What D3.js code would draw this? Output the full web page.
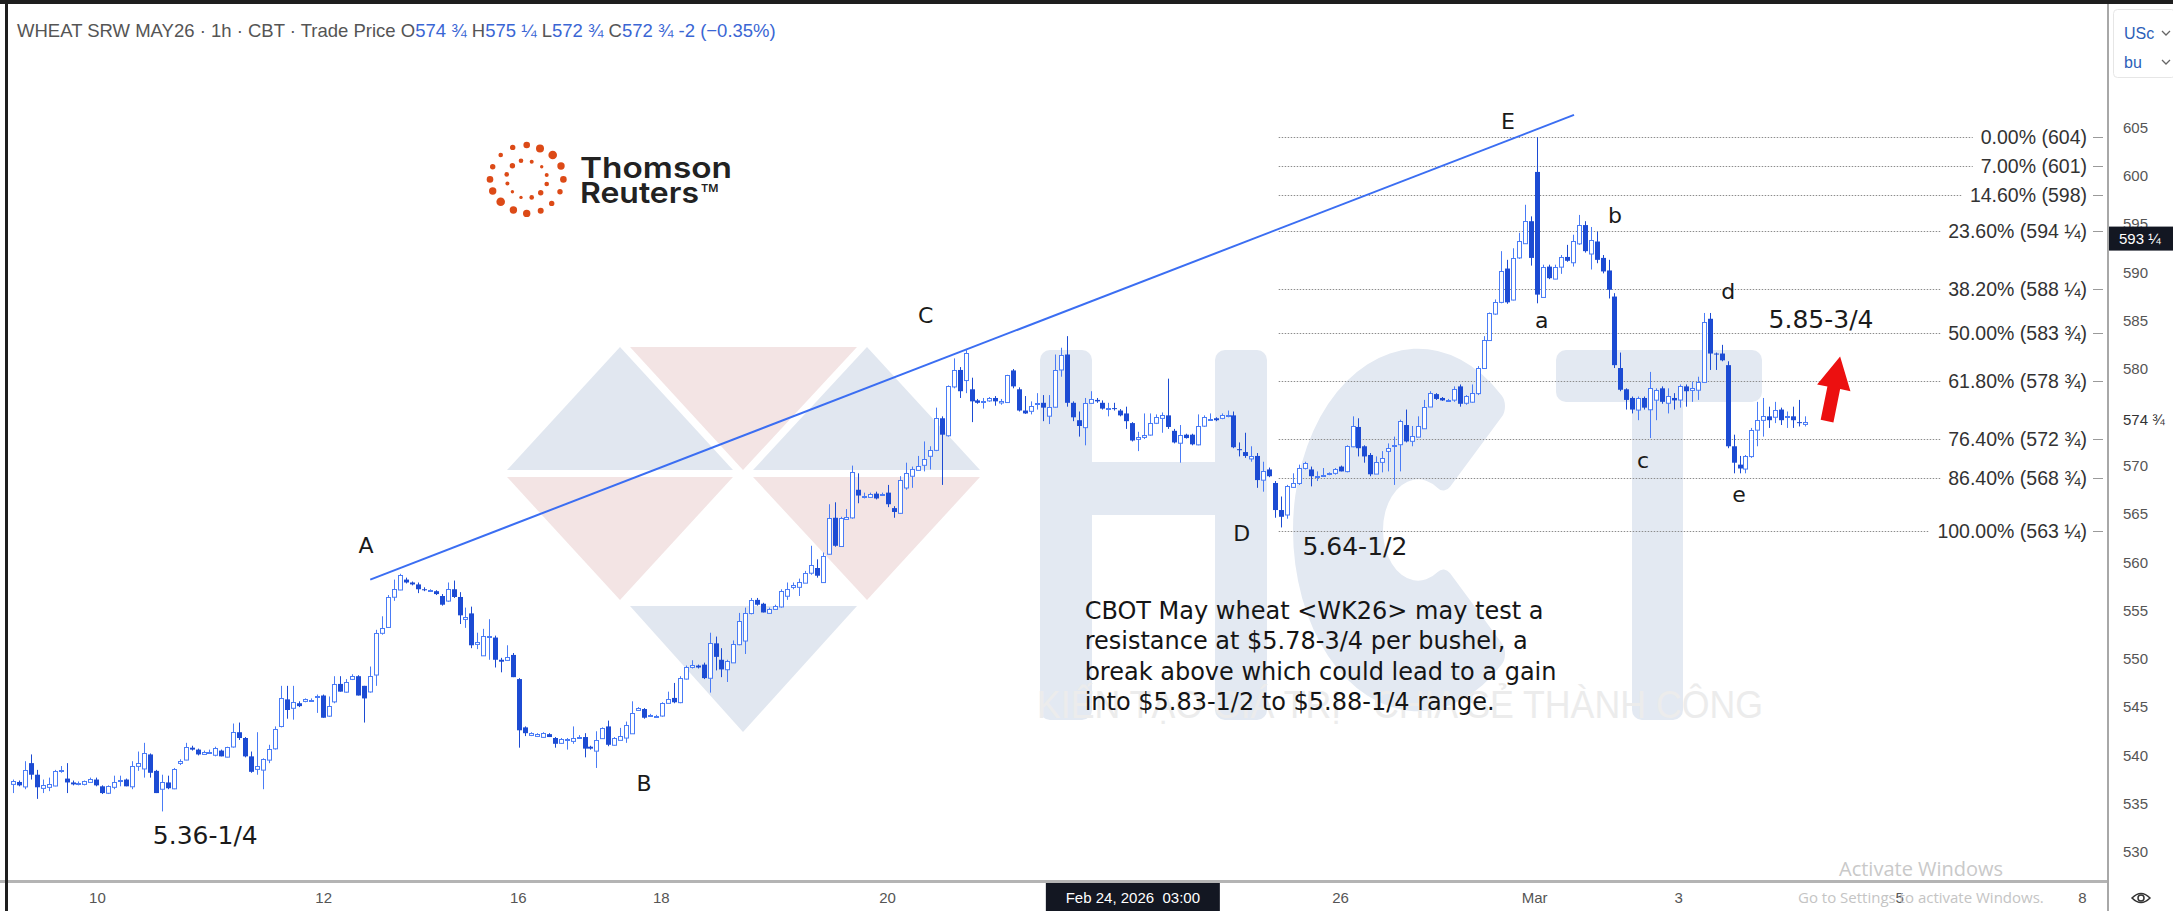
<!DOCTYPE html>
<html><head><meta charset="utf-8">
<script src="https://cdn.jsdelivr.net/npm/d3@7"></script>
<style>
html,body{margin:0;padding:0;background:#fff;overflow:hidden}
svg{display:block}
</style></head><body>
<svg id="chart" width="2173" height="911"></svg>
<script>
// ---------------- DATA ----------------
// hourly candles [open, high, low, close], US cents per bushel
const candlesA = [
[537.0,537.5,536.1,537.3],[537.25,537.4,536.8,536.9],[536.8,539.4,536.5,538.5],[539.2,540.1,537.5,538.0],
[538.0,538.5,535.5,536.7],[536.6,537.5,536.1,536.9],[536.7,537.7,536.3,537.0],[536.9,538.5,536.8,538.4],
[538.4,538.9,538.2,538.5],[537.6,539.2,536.1,537.2],[537.2,537.4,536.9,537.0],[537.0,537.3,536.9,537.1],
[537.0,537.4,536.9,537.3],[537.3,537.7,537.2,537.6],[537.5,537.7,536.8,536.9],[536.8,536.9,536.0,536.1],
[536.1,536.9,536.0,536.8],[536.7,537.9,536.5,537.2],[537.4,537.9,536.8,537.5],[537.5,537.6,536.8,536.8],
[536.8,539.4,536.5,538.9],[538.9,540.4,538.4,539.2],[538.6,541.3,537.7,540.2],[540.1,540.2,537.7,538.2],
[538.4,538.5,536.1,536.1],[536.5,538.0,534.2,537.2],[537.2,537.9,536.5,536.6],[536.6,538.7,536.5,538.6],
[539.2,539.6,539.0,539.4],[539.6,541.3,539.5,540.9],[540.8,541.0,540.5,540.6],[540.6,540.7,540.0,540.1],
[540.2,540.5,540.1,540.4],[540.4,540.6,540.3,540.4],[540.1,540.9,539.9,540.8],[540.5,540.6,539.9,539.9],
[539.9,540.9,539.8,540.9],[540.9,543.3,540.8,542.4],[542.4,543.4,541.6,541.8],[541.8,541.9,539.8,539.9],
[539.9,540.4,538.2,538.3],[538.6,542.4,538.0,538.9],[538.5,539.7,536.5,539.6],[539.6,541.1,539.2,540.7],
[540.7,543.0,540.6,542.7],[543.0,547.2,542.9,545.9],[545.8,547.2,543.8,544.7],[544.9,547.2,543.7,545.5],
[545.4,545.6,545.0,545.1],[545.6,545.9,545.5,545.8],[545.7,545.9,545.6,545.7],[546.0,546.3,544.4,546.1]
];
const candlesB = [
[546.2,546.3,543.9,543.9],[544.1,546.1,544.0,545.1],[545.6,548.2,545.4,547.4],[547.4,548.2,546.6,546.6],
[546.6,547.9,546.5,547.6],[547.9,548.4,547.8,548.2],[548.2,548.3,546.2,546.2],[547.2,547.2,543.4,545.9],
[546.6,549.2,546.5,548.2],[548.4,553.0,547.2,552.7],[552.7,554.4,552.5,553.2],[553.3,556.6,553.2,556.4],
[556.4,558.2,556.0,557.2],[557.2,558.8,557.1,558.7],[558.2,558.4,557.8,557.9],[557.9,558.0,557.6,557.7],
[557.7,557.9,556.8,557.2],[557.2,557.4,557.0,557.1],[557.1,557.2,557.0,557.1],[557.0,557.1,556.6,556.7],
[556.5,556.7,555.5,555.6],[556.0,557.9,555.9,557.2],[557.2,558.1,556.3,556.4],[556.4,556.9,553.6,554.5],
[554.1,555.3,553.2,554.3],[554.7,555.4,551.1,551.4],[551.5,552.7,551.0,551.7],[550.4,553.1,550.3,552.4],
[552.3,554.1,549.9,552.4],[552.2,552.4,549.1,549.9],[549.9,550.1,548.6,549.7],[549.9,551.4,549.8,550.2],
[550.4,550.6,548.1,548.1],[547.9,548.0,540.8,542.6],[542.9,543.0,542.0,542.3],[542.1,542.4,542.0,542.3],
[542.0,542.3,541.9,542.2],[541.9,542.4,541.8,542.3],[542.2,542.3,541.9,541.9],[541.8,541.9,540.8,541.2],
[541.3,541.8,541.2,541.7],[541.6,541.8,540.6,541.7],[541.5,543.0,541.2,541.8],[541.9,542.1,541.8,541.9],
[541.9,542.3,539.8,540.7],[540.9,541.0,540.6,540.7],[540.5,542.5,538.7,541.6]
];
const candlesC = [
[541.8,542.9,541.7,542.85],[543.0,543.6,540.95,541.1],[541.1,541.9,541.0,541.8],[541.6,542.85,541.6,542.0],
[541.8,543.5,541.3,543.1],[542.3,545.6,542.3,544.4],[544.7,545.0,544.6,544.9],[544.8,544.9,543.8,543.9],
[544.1,544.3,544.0,544.2],[544.0,544.2,543.9,544.1],[544.1,545.5,544.0,545.4],[545.45,546.6,545.4,545.85],
[545.95,547.5,545.4,545.5],[545.5,548.2,545.4,548.0],[547.9,549.3,547.85,549.1],[549.2,549.85,549.0,549.4],
[549.3,549.4,549.0,549.1],[549.4,549.6,547.9,548.0],[548.0,552.7,546.5,551.6],[551.6,552.3,548.8,550.2],
[549.9,551.1,548.1,548.9],[548.9,549.9,547.6,549.75],[549.6,551.9,549.6,551.5],[551.5,554.75,551.4,553.9],
[551.9,555.3,550.5,554.75],[554.75,556.3,554.6,556.1],[556.1,556.3,555.5,555.6],[555.7,555.8,554.8,554.8],
[554.8,555.3,554.7,555.2],[555.2,555.6,555.1,555.5],[555.4,557.2,555.3,557.0],[556.5,557.9,556.1,557.2],
[557.4,557.9,557.2,557.6],[557.4,558.3,556.5,557.9],[557.9,559.1,557.85,558.9],[558.9,561.7,558.7,559.7],
[559.4,560.3,558.4,558.6],[557.9,561.0,557.85,560.6],[560.9,566.0,560.8,564.6],[564.6,566.2,561.6,561.7],
[561.7,564.7,561.6,564.6],[564.5,565.5,564.4,564.7],[564.6,570.0,564.5,569.3],[567.5,569.2,566.1,566.9],
[566.8,567.2,566.6,566.9],[566.8,567.2,566.7,567.1],[567.1,567.3,566.5,566.6],[567.0,567.2,566.9,567.1],
[567.2,568.0,565.7,566.0],[565.6,565.8,564.6,565.2]
];
const candlesD = [
[565.1,568.9,565.0,568.5],[567.7,570.3,567.5,569.2],[568.9,569.9,567.7,569.6],[569.6,571.0,569.5,570.0],
[570.1,572.5,569.4,570.7],[571.0,572.0,569.6,571.6],[571.6,576.0,571.5,574.9],[574.9,575.1,568.0,573.2],
[573.1,578.3,573.0,578.2],[578.2,581.1,578.0,579.9],[579.9,580.2,577.0,577.7],[578.9,582.0,577.5,581.7],
[577.9,579.1,574.5,576.65],[576.75,576.9,576.4,576.5],[576.6,577.0,575.9,576.7],[576.75,577.1,576.6,577.0],
[577.0,577.2,576.2,576.65],[576.5,576.9,576.3,576.65],[576.6,579.4,576.5,579.4],[579.85,580.0,578.0,578.2],
[577.9,578.1,575.6,575.7],[575.7,577.2,575.35,575.4],[575.7,576.65,575.3,576.2],[576.4,577.5,575.8,576.5],
[576.5,577.3,574.6,576.0],[575.2,577.3,574.3,576.1],[576.1,581.5,576.0,579.9],[579.9,582.2,579.2,581.4],
[581.5,583.4,576.1,576.5],[576.5,576.65,574.6,575.0],[574.7,575.6,573.0,574.1],[574.0,577.0,572.1,576.5],
[576.5,577.7,576.4,576.9],[576.8,577.0,576.5,576.65],[576.5,576.75,575.8,575.9],[575.9,576.5,575.1,575.95],
[575.95,576.5,575.7,575.85],[575.7,575.85,575.1,575.2],[575.4,576.1,573.8,574.6],[574.4,574.5,572.5,572.6],
[572.75,573.5,571.5,572.95],[573.0,575.4,572.75,573.2],[573.2,575.4,573.1,574.4],[574.4,575.3,574.3,575.0],
[574.9,575.5,573.4,575.2],[575.2,579.0,573.8,574.0],[573.6,573.8,572.3,572.4],[572.4,574.2,570.3,573.2],
[573.2,573.3,572.8,572.85],[573.2,573.3,572.1,572.2],[572.2,575.3,572.1,574.1],[574.1,575.2,574.0,575.0],
[574.8,575.4,574.7,574.85],[574.9,575.0,574.6,574.7],[574.9,575.4,574.8,575.2],[575.1,575.7,575.0,575.2],
[575.2,575.6,571.8,571.9],[571.7,572.4,570.95,571.6],[571.4,573.4,570.8,571.0],[570.7,572.0,570.4,570.95],
[571.0,571.3,567.7,568.5]
];
const candlesE = [
[568.5,570.4,567.3,569.4],[569.6,569.8,568.8,568.9],[568.2,568.4,564.6,565.4],[565.4,566.8,563.6,564.7],
[564.9,568.0,564.5,567.85],[567.8,569.2,567.7,568.2],[568.2,570.1,568.0,569.75],[569.75,570.4,569.6,570.26],
[569.6,569.9,567.85,568.9],[568.9,569.4,568.4,568.95],[568.9,569.75,568.85,569.0],[569.1,569.3,569.0,569.2],
[569.2,569.75,569.06,569.6],[569.9,570.0,569.4,569.4],[569.4,572.1,569.3,572.0],[572.0,575.1,571.9,574.1],
[574.0,574.9,570.95,571.8],[572.0,572.1,570.3,570.95],[571.1,571.3,568.9,569.1],[569.2,570.95,569.16,570.4],
[570.4,571.5,569.3,570.8],[571.5,572.3,569.4,571.8],[572.0,573.0,568.0,572.1],[572.2,574.75,569.4,574.6],
[574.2,575.8,572.4,572.5],[572.6,574.1,572.0,573.1],[573.0,575.1,572.95,574.1],[573.9,576.8,573.8,576.1],
[576.1,577.7,576.06,577.5],[577.4,577.5,576.8,576.9],[577.0,577.1,576.7,576.75],[576.75,576.9,576.6,576.8],
[576.8,578.2,576.6,577.9],[578.2,578.4,576.1,576.4],[576.5,577.3,576.3,577.2],[576.6,578.4,576.5,577.5],
[577.5,580.3,577.3,580.1],[580.1,583.4,580.0,583.0],[583.0,585.85,582.95,585.8],[585.7,587.2,585.6,586.9],
[586.9,592.2,586.8,590.1],[590.4,591.3,586.75,586.9],[587.2,592.5,587.1,591.5],[591.5,594.1,591.4,593.2],
[593.0,597.0,592.95,595.3],[595.3,595.8,590.7,591.5],[600.4,604.0,586.8,587.7],[587.5,590.8,587.4,590.6],
[590.6,590.8,589.3,589.4],[589.4,590.8,589.3,590.6],[590.6,591.8,589.85,591.6],[591.6,592.85,591.1,591.2],
[591.0,593.9,590.6,593.2],[593.0,595.95,592.85,594.9]
];
const candlesF = [
[594.9,595.3,592.05,592.2],[592.0,594.7,590.3,593.4],[593.2,594.2,590.95,591.3],[591.5,591.8,589.9,590.1],
[590.2,591.3,587.3,588.2],[587.5,587.85,580.1,580.4],[580.1,581.7,577.7,577.85],[577.9,578.0,575.8,576.8],
[577.0,577.15,575.4,575.8],[575.8,577.15,574.7,577.0],[577.0,577.15,575.8,576.0],[575.8,579.7,572.85,578.0],
[576.8,578.0,574.7,577.8],[578.0,578.2,576.4,576.6],[576.5,578.0,575.4,577.2],[577.0,577.5,575.8,576.75],
[576.8,578.4,576.0,578.2],[578.2,578.4,576.1,577.7],[577.8,578.7,576.6,578.0],[577.9,579.2,576.8,578.7],
[578.7,585.8,578.6,584.9],[585.2,585.8,579.9,581.6],[581.6,581.7,579.9,581.5],[581.6,582.5,580.8,580.9],
[580.4,580.8,571.8,572.0],[572.0,573.2,569.2,570.3],[570.1,571.0,569.2,569.7],[569.7,571.1,569.2,571.0],
[571.0,573.9,570.8,573.7],[573.7,576.6,572.0,574.7],[574.7,577.0,573.0,575.1],[575.1,576.1,573.9,574.7],
[575.1,576.6,574.4,575.8],[575.8,576.0,574.2,574.7],[575.0,575.6,573.9,575.1],[575.1,576.1,573.9,574.7],
[574.5,576.8,574.05,574.4],[574.3,575.1,574.05,574.5]
];
const priceTicks = [530,535,540,545,550,555,560,565,570,580,585,590,595,600,605];
const dateTickLabels = ["10","12","16","18","20","26","Mar","3","5","8"];
const dateTickBars   = [14.1,52.1,84.8,108.8,146.8,222.9,255.5,279.7,316.8,347.5];
const fibPrices = [604,601,598,594.25,588.25,583.75,578.75,572.75,568.75,563.25];
const fibLabels = ["0.00% (604)","7.00% (601)","14.60% (598)","23.60% (594 ¼)","38.20% (588 ¼)",
                   "50.00% (583 ¾)","61.80% (578 ¾)","76.40% (572 ¾)","86.40% (568 ¾)","100.00% (563 ¼)"];
const fibStartBar = 212.6;
const trendBars = [60.0, 262.2];
const trendPrices = [558.2, 606.3];
const waveNames = ["A","B","C","D","E","a","b","c","d","e"];
const waveBars  = [59.3,106.0,153.3,206.4,251.1,256.8,269.1,273.8,288.1,289.9];
const wavePrices= [561.8,537.1,585.6,563.0,605.6,585.0,595.9,570.6,588.0,567.0];
const levelTexts = ["5.36-1/4","5.64-1/2","5.85-3/4"];
const levelBars  = [32.3,225.4,303.7];
const levelPrices= [531.7,561.7,585.1];
const noteLines = ["CBOT May wheat <WK26> may test a","resistance at $5.78-3/4 per bushel, a",
                   "break above which could lead to a gain","into $5.83-1/2 to $5.88-1/4 range."];
const noteBar = 180.0, notePrice = 555.0;
const arrowBars = [304.7, 306.9], arrowPrices = [574.6, 581.3];
const lastPrice = 574.75, lastPriceLabel = "574 ¾";
const crossPrice = 593.5, crossPriceLabel = "593 ¼";
const crossBar = 188.1, crossTimeLabel = "Feb 24, 2026  03:00";
const headerTitle = "WHEAT SRW MAY26 · 1h · CBT · Trade Price";
const headerOHLC = [["O","574 ¾"],["H","575 ¼"],["L","572 ¾"],["C","572 ¾"]];
const headerChange = "-2 (−0.35%)";

// ---------------- CHART ----------------
const candles = [].concat(candlesA,candlesB,candlesC,candlesD,candlesE,candlesF)
  .map(([o,h,l,c])=>({o,h:Math.max(h,o,c),l:Math.min(l,o,c),c}));
const W=2173,H=911, axisX=2107, axisY=881;
const svg=d3.select("#chart");
const x=d3.scaleLinear().domain([0,candles.length-1]).range([13,1805]);
const y=d3.scaleLinear().domain([530,605]).range([852,127.5]);

svg.append("rect").attr("width",W).attr("height",H).attr("fill","#fff");

// watermark: triangles
const wm=svg.append("g");
const BL="#e1e7f0", RD="#f3e4e4";
const tri=[
 [[620,347],[507,470],[733,470],BL],
 [[630,347],[857,347],[743,470],RD],
 [[867,347],[753,470],[980,470],BL],
 [[507,477],[733,477],[620,600],RD],
 [[753,477],[980,477],[867,600],RD],
 [[630,606],[857,606],[743,732],BL]
];
wm.selectAll("path.tri").data(tri).join("path").attr("class","tri")
  .attr("d",d=>`M${d[0]}L${d[1]}L${d[2]}Z`).attr("fill",d=>d[3]);
// HCT letters
const LB="#e3e9f2";
wm.append("rect").attr("x",1040).attr("y",350).attr("width",52).attr("height",370).attr("rx",10).attr("fill",LB);
wm.append("rect").attr("x",1215).attr("y",350).attr("width",52).attr("height",370).attr("rx",10).attr("fill",LB);
wm.append("rect").attr("x",1080).attr("y",462).attr("width",150).attr("height",53).attr("fill",LB);
wm.append("path").attr("transform","translate(1418,530) scale(1,1.45)")
  .attr("d",d3.arc().innerRadius(35).outerRadius(125).startAngle(Math.PI/2+0.75).endAngle(Math.PI*2.5-0.75).cornerRadius(10)())
  .attr("fill",LB);
wm.append("rect").attr("x",1556).attr("y",350).attr("width",206).attr("height",52).attr("rx",10).attr("fill",LB);
wm.append("rect").attr("x",1632).attr("y",380).attr("width",51).attr("height",340).attr("rx",10).attr("fill",LB);
wm.append("text").attr("x",1037).attr("y",718).attr("textLength",726).attr("lengthAdjust","spacingAndGlyphs")
  .attr("font-family","Liberation Sans, Arial, sans-serif").attr("font-size",38).attr("fill","#ececec")
  .text("KIẾN TẠO GIÁ TRỊ - CHIA SẺ THÀNH CÔNG");

// Thomson Reuters logo
const logo=svg.append("g").attr("transform","translate(526.7,176.7)");
const dots=[[0,-31.7,3.3],[13.3,-28.3,4],[26,-21.7,4.3],[34.3,-10.7,3.7],[36.7,2.7,3.3],[33.3,15,2.7],[25,26.7,2.7],
 [14,34,3],[0,36.7,3.7],[-13.3,33.3,3.7],[-26,25,4.3],[-34,14.3,3.7],[-36.7,2.7,3.3],[-34,-10,2.7],[-26,-21.7,2.3],[-14,-29.3,2.7],
 [-5.7,-16,2.3],[5,-15,2],[15,-10,1.7],[20,-1.7,2],[20,7.3,2.3],[14,16,2.7],[5,20.7,2.3],[-5.7,20.7,1.7],[-14.3,15,1.7],
 [-19.3,6.7,2],[-20,-2.3,2.3],[-14.3,-11,2.7]];
logo.selectAll("circle").data(dots).join("circle").attr("cx",d=>d[0]).attr("cy",d=>d[1]).attr("r",d=>d[2]).attr("fill","#dc4a17");
const lt=svg.append("g").attr("font-family","Inter, Roboto, sans-serif").attr("font-weight",600).attr("fill","#222");
lt.append("text").attr("x",580).attr("y",178).attr("font-size",29).attr("textLength",152).attr("lengthAdjust","spacingAndGlyphs").text("Thomson");
lt.append("text").attr("x",580).attr("y",203).attr("font-size",29).attr("textLength",119).attr("lengthAdjust","spacingAndGlyphs").text("Reuters");
lt.append("text").attr("x",701).attr("y",192).attr("font-size",11).text("TM");

// fib levels
const fib=svg.append("g");
const fibT=fib.selectAll("text").data(fibPrices).join("text")
  .attr("x",2087).attr("y",d=>y(d)).attr("dy","0.35em").attr("text-anchor","end")
  .attr("font-family","Liberation Sans, Arial, sans-serif").attr("font-size",19.5).attr("fill","#333")
  .text((d,i)=>fibLabels[i]);
fibT.each(function(d){
  const w=this.getComputedTextLength();
  fib.append("line").attr("x1",x(fibStartBar)).attr("x2",2087-w-8).attr("y1",Math.round(y(d))+0.5).attr("y2",Math.round(y(d))+0.5)
    .attr("stroke","#8c8c8c").attr("stroke-width",1).attr("stroke-dasharray","1.5,1.5");
  fib.append("line").attr("x1",2093).attr("x2",2103).attr("y1",Math.round(y(d))+0.5).attr("y2",Math.round(y(d))+0.5)
    .attr("stroke","#9a9a9a").attr("stroke-width",1);
});

// trend line
svg.append("line").attr("x1",x(trendBars[0])).attr("y1",y(trendPrices[0])).attr("x2",x(trendBars[1])).attr("y2",y(trendPrices[1]))
  .attr("stroke","#3b6ef2").attr("stroke-width",2);

// candles
const UP="#4a7cf6", DN="#1c4bd3";
const cg=svg.append("g");
const cx=i=>Math.round(x(i));
cg.selectAll("line").data(candles).join("line")
  .attr("x1",(d,i)=>cx(i)+0.5).attr("x2",(d,i)=>cx(i)+0.5)
  .attr("y1",d=>y(d.h)).attr("y2",d=>y(d.l))
  .attr("stroke",d=>d.c>=d.o?UP:DN).attr("stroke-width",1);
cg.selectAll("rect").data(candles).join("rect")
  .attr("x",(d,i)=>d.c>=d.o?cx(i)-1.5:cx(i)-2)
  .attr("width",d=>d.c>=d.o?4:5)
  .attr("y",d=>{const t=y(Math.max(d.o,d.c));return d.c>=d.o?Math.round(t)+0.5:t;})
  .attr("height",d=>Math.max(1,Math.abs(y(d.o)-y(d.c))))
  .attr("fill",d=>d.c>=d.o?"#fff":DN)
  .attr("stroke",d=>d.c>=d.o?UP:"none").attr("stroke-width",1);

// wave labels
svg.append("g").selectAll("text").data(waveNames).join("text")
  .attr("x",(d,i)=>x(waveBars[i])).attr("y",(d,i)=>y(wavePrices[i])).attr("dy","0.35em").attr("text-anchor","middle")
  .attr("font-family","DejaVu Sans, sans-serif").attr("font-size",22).attr("fill","#1a1a1a").text(d=>d);
svg.append("g").selectAll("text").data(levelTexts).join("text")
  .attr("x",(d,i)=>x(levelBars[i])).attr("y",(d,i)=>y(levelPrices[i])).attr("dy","0.35em").attr("text-anchor","middle")
  .attr("font-family","DejaVu Sans, sans-serif").attr("font-size",25).attr("fill","#1a1a1a").text(d=>d);

// note
svg.append("g").selectAll("text").data(noteLines).join("text")
  .attr("x",x(noteBar)).attr("y",(d,i)=>y(notePrice)+i*30.5).attr("dy","0.35em")
  .attr("font-family","DejaVu Sans, sans-serif").attr("font-size",24).attr("fill","#151515").text(d=>d);

// red arrow
(function(){
  const x0=x(arrowBars[0]),y0=y(arrowPrices[0]),x1=x(arrowBars[1]),y1=y(arrowPrices[1]);
  const len=Math.hypot(x1-x0,y1-y0), ang=Math.atan2(y1-y0,x1-x0)*180/Math.PI;
  const hl=32, hw=17, sw=6.5;
  svg.append("path").attr("transform",`translate(${x0},${y0}) rotate(${ang})`)
    .attr("d",`M0,${-sw}L${len-hl},${-sw}L${len-hl},${-hw}L${len},0L${len-hl},${hw}L${len-hl},${sw}L0,${sw}Z`)
    .attr("fill","#ec1010");
})();

// axes
const yAxis=svg.append("g").attr("transform",`translate(${axisX},0)`)
  .call(d3.axisRight(y).tickValues(priceTicks).tickSize(0).tickPadding(16).tickFormat(d3.format("d")));
yAxis.select(".domain").remove();
yAxis.selectAll("text").attr("font-family","Liberation Sans, Arial, sans-serif").attr("font-size",15).attr("fill","#555");
const xAxis=svg.append("g").attr("transform",`translate(0,${axisY})`)
  .call(d3.axisBottom(x).tickValues(dateTickBars).tickSize(0).tickPadding(11).tickFormat((d,i)=>dateTickLabels[i]));
xAxis.select(".domain").remove();
xAxis.selectAll("text").attr("font-family","Liberation Sans, Arial, sans-serif").attr("font-size",15).attr("fill","#555");

// separators & frame
svg.append("rect").attr("x",0).attr("y",axisY-1).attr("width",axisX).attr("height",3).attr("fill","#b4b4b4");
svg.append("rect").attr("x",axisX).attr("y",0).attr("width",2).attr("height",H).attr("fill","#a8a8a8");
svg.append("rect").attr("x",0).attr("y",0).attr("width",W).attr("height",4).attr("fill","#1e1e1e");
svg.append("rect").attr("x",5).attr("y",0).attr("width",3).attr("height",H).attr("fill","#1e1e1e");

// last price & crosshair labels
svg.append("text").attr("x",axisX+16).attr("y",y(lastPrice)).attr("dy","0.35em")
  .attr("font-family","Liberation Sans, Arial, sans-serif").attr("font-size",15).attr("fill","#333").text(lastPriceLabel);
svg.append("rect").attr("x",axisX+2).attr("y",y(crossPrice)-12).attr("width",W-axisX-2).attr("height",24).attr("fill","#131722");
svg.append("text").attr("x",axisX+12).attr("y",y(crossPrice)).attr("dy","0.35em")
  .attr("font-family","Liberation Sans, Arial, sans-serif").attr("font-size",15).attr("fill","#fff").text(crossPriceLabel);
svg.append("rect").attr("x",x(crossBar)-87).attr("y",axisY+2).attr("width",174).attr("height",H-axisY-2).attr("fill","#131722");
svg.append("text").attr("x",x(crossBar)).attr("y",axisY+17).attr("dy","0.35em").attr("text-anchor","middle")
  .attr("font-family","Liberation Sans, Arial, sans-serif").attr("font-size",15).attr("fill","#fff")
  .style("white-space","pre").text(crossTimeLabel);

// currency / unit box
const ub=svg.append("g");
ub.append("rect").attr("x",2113.5).attr("y",9.5).attr("width",62).attr("height",68).attr("rx",4).attr("fill","#fff").attr("stroke","#e6e6e6");
ub.append("text").attr("x",2124).attr("y",33).attr("dy","0.35em").attr("font-family","Liberation Sans, Arial, sans-serif").attr("font-size",16).attr("fill","#2d5fb8").text("USc");
ub.append("text").attr("x",2124).attr("y",62).attr("dy","0.35em").attr("font-family","Liberation Sans, Arial, sans-serif").attr("font-size",16).attr("fill","#2d5fb8").text("bu");
ub.selectAll("path").data([33,62]).join("path").attr("d",d=>`M2162,${d-2}l4,4l4,-4`).attr("fill","none").attr("stroke","#666").attr("stroke-width",1.3);

// header
const hd=svg.append("text").attr("x",17).attr("y",31).attr("dy","0.35em")
  .attr("font-family","Liberation Sans, Arial, sans-serif").attr("font-size",18.5).attr("fill","#555");
hd.append("tspan").text(headerTitle+"  ");
headerOHLC.forEach(([k,v])=>{hd.append("tspan").attr("fill","#555").text(k);hd.append("tspan").attr("fill","#3a66d4").text(v+" ");});
hd.append("tspan").attr("fill","#3a66d4").text(headerChange);

// windows activation text
svg.append("text").attr("x",1839).attr("y",876).attr("font-family","Open Sans, Liberation Sans, sans-serif").attr("font-size",20).attr("fill","#c9c9c9").text("Activate Windows");
svg.append("text").attr("x",1798).attr("y",903).attr("font-family","Open Sans, Liberation Sans, sans-serif").attr("font-size",15).attr("fill","#c4c4c4").text("Go to Settings to activate Windows.");

// eye icon
const eye=svg.append("g").attr("transform","translate(2141,898)");
eye.append("path").attr("d","M-9,0Q0,-9 9,0Q0,9 -9,0Z").attr("fill","none").attr("stroke","#333").attr("stroke-width",1.5);
eye.append("circle").attr("r",3).attr("fill","none").attr("stroke","#333").attr("stroke-width",1.5);
</script>
</body></html>
